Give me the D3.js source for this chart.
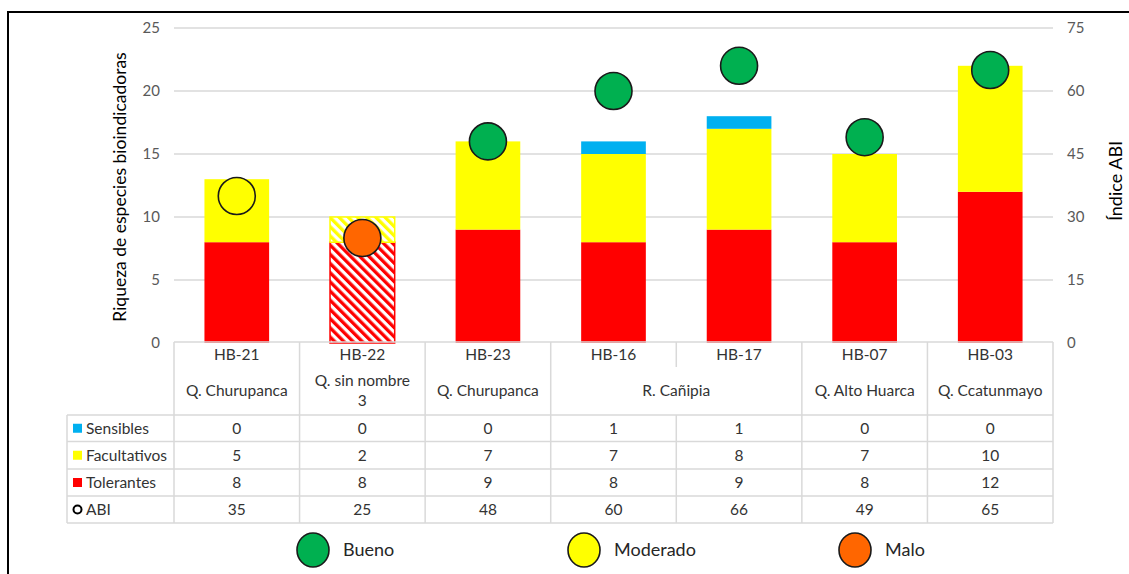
<!DOCTYPE html>
<html>
<head>
<meta charset="utf-8">
<script src="https://cdn.jsdelivr.net/npm/d3@7"></script>
<style>
  html, body { margin: 0; padding: 0; background: #fff; }
  svg text { font-family: Lato, "Open Sans", sans-serif; }
</style>
</head>
<body>
<svg id="chart" width="1129" height="574"></svg>
<script>
// Monitoring stations and their water body
const categories = ["HB-21", "HB-22", "HB-23", "HB-16", "HB-17", "HB-07", "HB-03"];
const locations = ["Q. Churupanca", "Q. sin nombre 3", "Q. Churupanca", "R. Cañipia", "R. Cañipia", "Q. Alto Huarca", "Q. Ccatunmayo"];
const locationLines = {"Q. sin nombre 3": ["Q. sin nombre", "3"]};

// Species richness by tolerance group
const sensibles = [0, 0, 0, 1, 1, 0, 0];
const facultativos = [5, 2, 7, 7, 8, 7, 10];
const tolerantes = [8, 8, 9, 8, 9, 8, 12];

// Andean Biotic Index and its quality class
const abi = [35, 25, 48, 60, 66, 49, 65];
const abiClass = ["Moderado", "Malo", "Bueno", "Bueno", "Bueno", "Bueno", "Bueno"];
const hatchedStations = ["HB-22"];

const leftTicks = [0, 5, 10, 15, 20, 25];
const rightTicks = [0, 15, 30, 45, 60, 75];
const classNames = ["Bueno", "Moderado", "Malo"];

const seriesNames = ["Tolerantes", "Facultativos", "Sensibles"];
const seriesColors = {Tolerantes: "#FF0000", Facultativos: "#FFFF00", Sensibles: "#00B0F0"};
const classColors = {Bueno: "#00B050", Moderado: "#FFFF00", Malo: "#FF6600"};

const svg = d3.select("#chart");
const plot = {left: 174, right: 1053, top: 28, bottom: 343};

const x = d3.scaleBand().domain(categories).range([plot.left, plot.right]).paddingInner(0.485).paddingOuter(0.2425);
const xCol = d3.scaleBand().domain(categories).range([plot.left, plot.right]);
const y = d3.scaleLinear().domain([0, 25]).range([plot.bottom, plot.top]);
const y2 = d3.scaleLinear().domain([0, 75]).range([plot.bottom, plot.top]);

// Outer frame (top and left edges)
svg.append("line").attr("x1", 8).attr("x2", 1129).attr("y1", 12).attr("y2", 12).attr("stroke", "#000").attr("stroke-width", 2);
svg.append("line").attr("x1", 8).attr("x2", 8).attr("y1", 11).attr("y2", 574).attr("stroke", "#000").attr("stroke-width", 2);

// Hatch patterns for the highlighted station
const defs = svg.append("defs");
Object.entries(seriesColors).forEach(([name, col]) => {
  const p = defs.append("pattern").attr("id", "hatch-" + name)
    .attr("patternUnits", "userSpaceOnUse").attr("width", 6.5).attr("height", 6.5)
    .attr("patternTransform", "rotate(-45)");
  p.append("rect").attr("width", 6.5).attr("height", 6.5).attr("fill", "#fff");
  p.append("rect").attr("width", 3.3).attr("height", 6.5).attr("fill", col);
});

// Gridlines
svg.append("g").selectAll("line").data(leftTicks.slice(1)).join("line")
  .attr("x1", plot.left).attr("x2", plot.right)
  .attr("y1", d => y(d)).attr("y2", d => y(d))
  .attr("stroke", "#d9d9d9").attr("stroke-width", 1.5);

// Left axis
const leftAxis = svg.append("g").attr("transform", `translate(${plot.left - 14},0)`)
  .call(d3.axisLeft(y).tickValues(leftTicks).tickSize(0).tickPadding(0));
leftAxis.select(".domain").remove();
leftAxis.selectAll("text").attr("font-size", 15).attr("fill", "#595959").attr("font-family", "Lato, sans-serif");

// Right axis
const rightAxis = svg.append("g").attr("transform", `translate(${plot.right + 14},0)`)
  .call(d3.axisRight(y2).tickValues(rightTicks).tickSize(0).tickPadding(0));
rightAxis.select(".domain").remove();
rightAxis.selectAll("text").attr("font-size", 15).attr("fill", "#595959").attr("font-family", "Lato, sans-serif");

// Axis titles
svg.append("text").attr("transform", "translate(126,187) rotate(-90)")
  .attr("text-anchor", "middle").attr("font-size", 17.5).attr("fill", "#000")
  .text("Riqueza de especies bioindicadoras");
svg.append("text").attr("transform", "translate(1122,181) rotate(-90)")
  .attr("text-anchor", "middle").attr("font-size", 18).attr("fill", "#000")
  .text("Índice ABI");

// Stacked bars
const rows = categories.map((c, i) => ({cat: c, Tolerantes: tolerantes[i], Facultativos: facultativos[i], Sensibles: sensibles[i]}));
const stack = d3.stack().keys(seriesNames)(rows);
const barG = svg.append("g");
stack.forEach(layer => {
  const name = layer.key;
  barG.append("g").selectAll("rect").data(layer.filter(d => d[1] > d[0])).join("rect")
    .attr("x", d => x(d.data.cat))
    .attr("width", x.bandwidth())
    .attr("y", d => y(d[1]))
    .attr("height", d => y(d[0]) - y(d[1]))
    .each(function(d) {
      const sel = d3.select(this);
      if (hatchedStations.includes(d.data.cat)) {
        sel.attr("fill", `url(#hatch-${name})`).attr("stroke", seriesColors[name]).attr("stroke-width", 1.5);
      } else {
        sel.attr("fill", seriesColors[name]);
      }
    });
});

// ABI markers
svg.append("g").selectAll("circle").data(categories).join("circle")
  .attr("cx", d => x(d) + x.bandwidth() / 2)
  .attr("cy", (d, i) => y2(abi[i]))
  .attr("r", 18.5)
  .attr("fill", (d, i) => classColors[abiClass[i]])
  .attr("stroke", "#1a1a1a").attr("stroke-width", 1.6);

// Data table
const grid = "#d9d9d9";
const tbl = svg.append("g");
const txtCol = "#333";
const fs = 15.5;
const headerTop = 342, headerBottom = 415;
const rowEdges = [415, 441.5, 469, 496, 523];
const tableLeft = 67;

// header cells: station codes
tbl.append("g").selectAll("text").data(categories).join("text")
  .attr("x", d => xCol(d) + xCol.bandwidth() / 2).attr("y", 355)
  .attr("dy", "0.35em").attr("text-anchor", "middle")
  .attr("font-size", fs).attr("fill", txtCol).text(d => d);

// header cells: water bodies, merged where consecutive stations share one
const groups = [];
locations.forEach((loc, i) => {
  const last = groups[groups.length - 1];
  if (last && last.name === loc) last.end = i; else groups.push({name: loc, start: i, end: i});
});
groups.forEach(g => {
  const x0 = xCol(categories[g.start]);
  const x1 = xCol(categories[g.end]) + xCol.bandwidth();
  const lines = locationLines[g.name] || [g.name];
  const cy = 391 - (lines.length - 1) * 10;
  lines.forEach((ln, k) => {
    tbl.append("text").attr("x", (x0 + x1) / 2).attr("y", cy + k * 20)
      .attr("dy", "0.35em").attr("text-anchor", "middle")
      .attr("font-size", fs).attr("fill", txtCol).text(ln);
  });
});

// header borders
tbl.append("line").attr("x1", plot.left).attr("x2", plot.right).attr("y1", headerTop).attr("y2", headerTop).attr("stroke", grid).attr("stroke-width", 1.5);
const colEdges = categories.map(c => xCol(c)).concat([plot.right]);
colEdges.forEach((cx, i) => {
  const inside = i > 0 && i < categories.length && locations[i] === locations[i - 1];
  tbl.append("line").attr("x1", cx).attr("x2", cx).attr("y1", headerTop)
    .attr("y2", inside ? 367 : rowEdges[rowEdges.length - 1])
    .attr("stroke", grid).attr("stroke-width", 1.5);
  if (inside) {
    tbl.append("line").attr("x1", cx).attr("x2", cx).attr("y1", headerBottom)
      .attr("y2", rowEdges[rowEdges.length - 1]).attr("stroke", grid).attr("stroke-width", 1.5);
  }
});
rowEdges.forEach(ry => {
  tbl.append("line").attr("x1", tableLeft).attr("x2", plot.right).attr("y1", ry).attr("y2", ry)
    .attr("stroke", grid).attr("stroke-width", 1.5);
});
tbl.append("line").attr("x1", tableLeft).attr("x2", tableLeft).attr("y1", rowEdges[0]).attr("y2", rowEdges[rowEdges.length - 1])
  .attr("stroke", grid).attr("stroke-width", 1.5);

// table body
const tableRows = [
  {name: "Sensibles", values: sensibles, key: "square", color: seriesColors.Sensibles},
  {name: "Facultativos", values: facultativos, key: "square", color: seriesColors.Facultativos},
  {name: "Tolerantes", values: tolerantes, key: "square", color: seriesColors.Tolerantes},
  {name: "ABI", values: abi, key: "circle"}
];
tableRows.forEach((r, ri) => {
  const cy = (rowEdges[ri] + rowEdges[ri + 1]) / 2;
  if (r.key === "square") {
    tbl.append("rect").attr("x", 73).attr("y", cy - 4.5).attr("width", 9).attr("height", 9).attr("fill", r.color);
  } else {
    tbl.append("circle").attr("cx", 77.5).attr("cy", cy).attr("r", 4).attr("fill", "none").attr("stroke", "#000").attr("stroke-width", 2);
  }
  tbl.append("text").attr("x", 86).attr("y", cy).attr("dy", "0.35em")
    .attr("font-size", fs).attr("fill", txtCol).text(r.name);
  tbl.append("g").selectAll("text").data(r.values).join("text")
    .attr("x", (d, i) => xCol(categories[i]) + xCol.bandwidth() / 2).attr("y", cy)
    .attr("dy", "0.35em").attr("text-anchor", "middle")
    .attr("font-size", fs).attr("fill", txtCol).text(d => d);
});

// Legend of ABI quality classes
const legendX = d3.scalePoint().domain(classNames).range([313, 855]);
const leg = svg.append("g").selectAll("g").data(classNames).join("g")
  .attr("transform", d => `translate(${legendX(d)},550)`);
leg.append("ellipse").attr("rx", 16).attr("ry", 17)
  .attr("fill", d => classColors[d]).attr("stroke", "#1a1a1a").attr("stroke-width", 1.6);
leg.append("text").attr("x", 30).attr("dy", "0.35em").attr("font-size", 18).attr("fill", "#262626").text(d => d);
</script>
</body>
</html>
